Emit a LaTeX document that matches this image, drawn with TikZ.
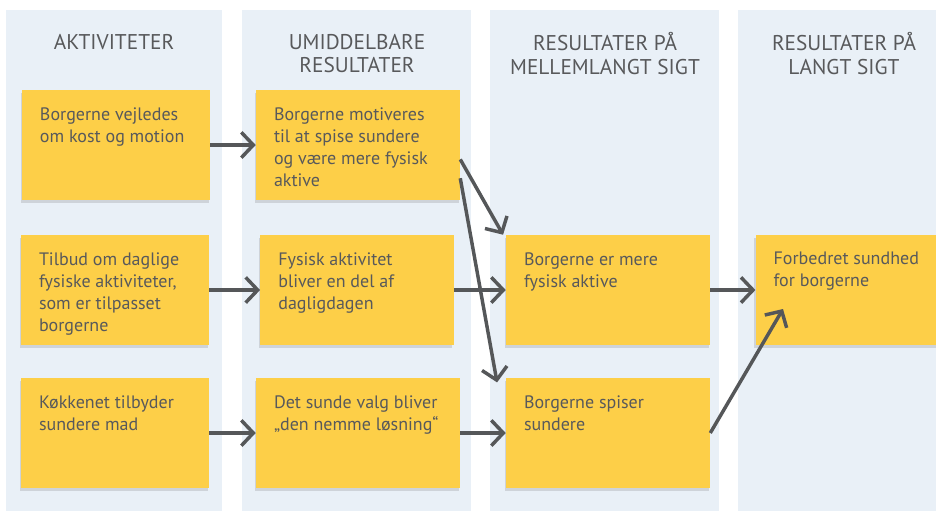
\documentclass[tikz,border=0pt]{standalone}
\usepackage{fontspec}
\setmainfont{PT Sans}
\usetikzlibrary{positioning,arrows.meta,shadows}
\definecolor{colbg}{HTML}{E9F0F7}
\definecolor{noteyellow}{HTML}{FDCF48}
\definecolor{inkgray}{HTML}{58595B}
\definecolor{arrowgray}{HTML}{555759}
\tikzset{
  heading/.style={text=inkgray, align=center, font=\fontsize{16}{17.5}\selectfont},
  note/.style={fill=noteyellow, text=inkgray, inner xsep=13.5pt, inner ysep=13pt,
    font=\fontsize{13.5}{16.5}\selectfont,
    drop shadow={shadow xshift=-1pt, shadow yshift=-2.5pt, opacity=.25},
    execute at begin node={\begin{minipage}[t][56.5pt][t]{#1}\raggedright},
    execute at end node={\end{minipage}}},
  note/.default=114pt,
  link/.style={draw=arrowgray, line width=2.6pt, -{Straight Barb[length=9pt,width=19pt]}}
}
\begin{document}
\begin{tikzpicture}[x=0.75pt, y=-0.75pt]
    \useasboundingbox (0,0) rectangle (936,511);
    % columns
    \fill[colbg] (6,10) rectangle (222,511);
    \fill[colbg] (242,10) rectangle (471,511);
    \fill[colbg] (490,10) rectangle (719,511);
    \fill[colbg] (738,10) rectangle (936,511);

    % headings
    \node[heading] (h_akt) at (114,42) {AKTIVITETER};
    \node[heading] (h_umi) at (357,53.5) {UMIDDELBARE\\RESULTATER};
    \node[heading] (h_mel) at (605,53.5) {RESULTATER PÅ\\MELLEMLANGT SIGT};
    \node[heading] (h_lan) at (844,53.5) {RESULTATER PÅ\\LANGT SIGT};

    % aktiviteter
    \node[note] (A1) at (116,145) {Borgerne vejledes\\om kost og motion};
    \node[note] (A2) at (115,290) {Tilbud om daglige\\fysiske aktiviteter,\\som er tilpasset\\borgerne};
    \node[note] (A3) at (115,433) {Køkkenet tilbyder\\sundere mad};

    % umiddelbare resultater
    \node[note=126pt] (B1) at (358,145) {Borgerne motiveres\\til at spise sundere\\og være mere fysisk\\aktive};
    \node[note=118pt] (B2) at (357,290) {Fysisk aktivitet\\bliver en del af\\dagligdagen};
    \node[note=126pt] (B3) at (358,433) {Det sunde valg bliver\\„den nemme løsning“};

    % mellemlangt sigt
    \node[note=126pt] (C1) at (608,290) {Borgerne er mere\\fysisk aktive};
    \node[note=126pt] (C2) at (608,433) {Borgerne spiser\\sundere};

    % langt sigt
    \node[note=116pt] (D1) at (851,290) {Forbedret sundhed\\for borgerne};
    \coordinate (D1in) at (783,309);

    % links
    \draw[link] (A1) -- (B1);
    \draw[link] (A2) -- (B2);
    \draw[link] (A3) -- (B3);
    \draw[link] (B1.-8) -- ([xshift=-2pt]C1.north west);
    \draw[link] (B1.-18) -- ([xshift=-6.5pt,yshift=-3.5pt]C2.north west);
    \draw[link] (B2) -- (C1);
    \draw[link] (B3) -- (C2);
    \draw[link] (C1) -- (D1);
    \draw[link] (C2.east) -- (D1in);
\end{tikzpicture}
\end{document}
